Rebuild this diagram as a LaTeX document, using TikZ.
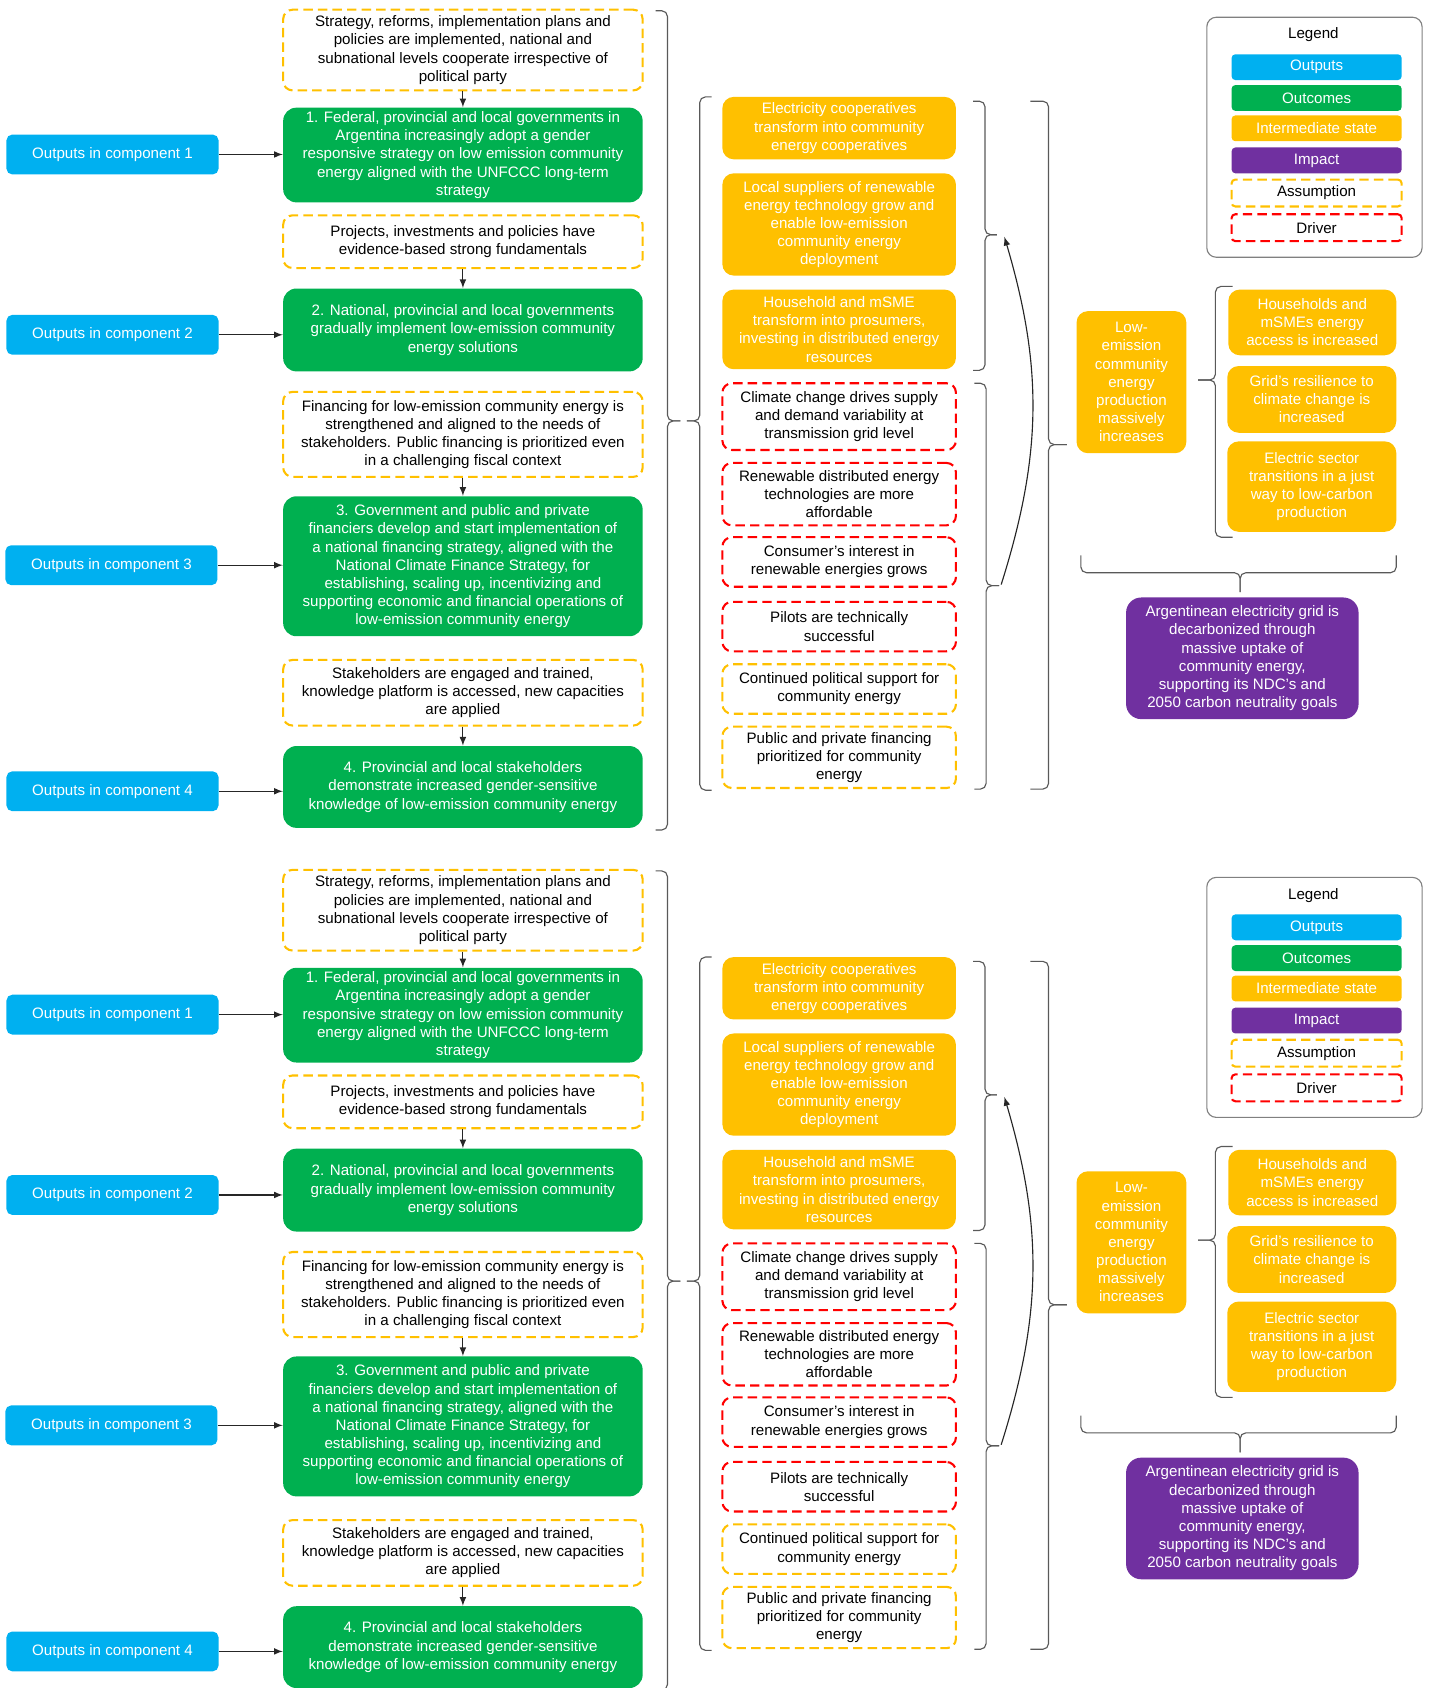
\documentclass[tikz,border=0pt]{standalone}
\usepackage{fontspec}
\setmainfont{Liberation Sans}
\usepackage{tikz}
\definecolor{outblue}{HTML}{00B0F0}
\definecolor{outgreen}{HTML}{00B050}
\definecolor{interyellow}{HTML}{FFC000}
\definecolor{imppurple}{HTML}{7030A0}
\definecolor{drvred}{HTML}{FF0000}
\tikzstyle{tocbox} = [align=center,inner sep=0pt,font=\fontsize{8}{9.6}\selectfont]
\tikzstyle{output} = [tocbox,fill=outblue,text=white,rounded corners=3pt,minimum width=3.94cm,minimum height=0.74cm]
\tikzstyle{outcome} = [tocbox,fill=outgreen,text=white,rounded corners=7pt,minimum width=6.68cm]
\tikzstyle{inter} = [tocbox,fill=interyellow,text=white,rounded corners=6pt]
\tikzstyle{impact} = [tocbox,fill=imppurple,text=white,rounded corners=8pt]
\tikzstyle{assume} = [tocbox,draw=interyellow,line width=1.1pt,dash pattern=on 5pt off 2.7pt,rounded corners=5pt]
\tikzstyle{driver} = [assume,draw=drvred]
\tikzstyle{leftcol} = [minimum width=6.68cm]
\tikzstyle{midcol} = [minimum width=4.34cm]
\tikzstyle{legkey} = [minimum width=3.16cm,minimum height=0.48cm,rounded corners=2pt]
\tikzstyle{bracket} = [draw,gray!70!black,line width=0.6pt,rounded corners=3pt]

\begin{document}
\begin{tikzpicture}[x=0.02cm,y=-0.02cm,post/.style={->,>=latex,line width=0.6pt,gray!30!black}]
    \useasboundingbox (0,0) rectangle (1330,1568);

    % upper copy
    \begin{scope}
    \node[assume,leftcol,minimum height=1.5cm] (asm1) at (430,46.5) {Strategy, reforms, implementation plans and\\policies are implemented, national and\\subnational levels cooperate irrespective of\\political party};
    \node[outcome,minimum height=1.76cm] (goal1) at (430,144) {1. Federal, provincial and local governments in\\Argentina increasingly adopt a gender\\responsive strategy on low emission community\\energy aligned with the UNFCCC long-term\\strategy};
    \node[assume,leftcol,minimum height=0.98cm] (asm2) at (430,224.5) {Projects, investments and policies have\\evidence-based strong fundamentals};
    \node[outcome,minimum height=1.54cm] (goal2) at (430,306.5) {2. National, provincial and local governments\\gradually implement low-emission community\\energy solutions};
    \node[assume,leftcol,minimum height=1.58cm] (asm3) at (430,403.5) {Financing for low-emission community energy is\\strengthened and aligned to the needs of\\stakeholders. Public financing is prioritized even\\in a challenging fiscal context};
    \node[outcome,minimum height=2.6cm] (goal3) at (430,526) {3. Government and public and private\\financiers develop and start implementation of\\a national financing strategy, aligned with the\\National Climate Finance Strategy, for\\establishing, scaling up, incentivizing and\\supporting economic and financial operations of\\low-emission community energy};
    \node[assume,leftcol,minimum height=1.22cm] (asm4) at (430,643.5) {Stakeholders are engaged and trained,\\knowledge platform is accessed, new capacities\\are applied};
    \node[outcome,minimum height=1.52cm] (goal4) at (430,731) {4. Provincial and local stakeholders\\demonstrate increased gender-sensitive\\knowledge of low-emission community energy};

    \node[output] (out1) at (104.5,143.5) {Outputs in component 1};
    \node[output] (out2) at (104.5,311) {Outputs in component 2};
    \node[output] (out3) at (103.5,525) {Outputs in component 3};
    \node[output] (out4) at (104.5,735) {Outputs in component 4};

    \draw[post] (asm1) -- (goal1);
    \draw[post] (asm2) -- (goal2);
    \draw[post] (asm3) -- (goal3);
    \draw[post] (asm4) -- (goal4);
    \draw[post] (out1) -- (out1 -| goal1.west);
    \draw[post] (out2) -- (out2 -| goal2.west);
    \draw[post] (out3) -- (out3 -| goal3.west);
    \draw[post] (out4) -- (out4 -| goal4.west);

    \node[inter,midcol,minimum height=1.16cm] (inter1) at (779.5,119) {Electricity cooperatives\\transform into community\\energy cooperatives};
    \node[inter,midcol,minimum height=1.9cm] (inter2) at (779.5,208.5) {Local suppliers of renewable\\energy technology grow and\\enable low-emission\\community energy\\deployment};
    \node[inter,midcol,minimum height=1.48cm] (inter3) at (779.5,306) {Household and mSME\\transform into prosumers,\\investing in distributed energy\\resources};
    \node[driver,midcol,minimum height=1.24cm] (drv1) at (779.5,387) {Climate change drives supply\\and demand variability at\\transmission grid level};
    \node[driver,midcol,minimum height=1.16cm] (drv2) at (779.5,459) {Renewable distributed energy\\technologies are more\\affordable};
    \node[driver,midcol,minimum height=0.92cm] (drv3) at (779.5,522) {Consumer’s interest in\\renewable energies grows};
    \node[driver,midcol,minimum height=0.92cm] (drv4) at (779.5,582) {Pilots are technically\\successful};
    \node[assume,midcol,minimum height=0.92cm] (asm5) at (779.5,640) {Continued political support for\\community energy};
    \node[assume,midcol,minimum height=1.14cm] (asm6) at (779.5,703.5) {Public and private financing\\prioritized for community\\energy};

    \node[inter,minimum width=2.04cm,minimum height=2.64cm] (low) at (1051,355) {Low-\\emission\\community\\energy\\production\\massively\\increases};
    \node[inter,minimum width=3.12cm,minimum height=1.22cm] (res1) at (1219,299.5) {Households and\\mSMEs energy\\access is increased};
    \node[inter,minimum width=3.14cm,minimum height=1.24cm] (res2) at (1218.5,371) {Grid’s resilience to\\climate change is\\increased};
    \node[inter,minimum width=3.14cm,minimum height=1.68cm] (res3) at (1218.5,452) {Electric sector\\transitions in a just\\way to low-carbon\\production};
    \node[impact,minimum width=4.32cm,minimum height=2.26cm] (goal) at (1154,611.5) {Argentinean electricity grid is\\decarbonized through\\massive uptake of\\community energy,\\supporting its NDC’s and\\2050 carbon neutrality goals};

    % brackets
    \draw[bracket] (609,10) -| (620,391) -- (632,391);
    \draw[bracket] (609,771) -| (620,391) -- (632,391);
    \draw[bracket] (661,90) -| (650,391) -- (638,391);
    \draw[bracket] (661,734) -| (650,391) -- (638,391);
    \draw[bracket] (904,94) -| (915,218) -- (926,218);
    \draw[bracket] (904,344) -| (915,218) -- (926,218);
    \draw[bracket] (905,356) -| (916,544) -- (928,544);
    \draw[bracket] (905,733) -| (916,544) -- (928,544);
    \draw[bracket] (957,94) -| (974,413) -- (991,413);
    \draw[bracket] (957,733) -| (974,413) -- (991,413);
    \draw[bracket] (1145,266) -| (1129,353) -- (1113,353);
    \draw[bracket] (1145,499) -| (1129,353) -- (1113,353);
    \draw[bracket] (1004,516) |- (1152,532) -- (1152,550);
    \draw[bracket] (1297,516) |- (1152,532) -- (1152,550);
    \coordinate (drvtip) at (930,543);
    \coordinate (intertip) at (933,220);
    \draw[post] (drvtip) to[bend right=17] (intertip);

    \node[draw=gray,line width=0.6pt,rounded corners=5pt,minimum width=4cm,minimum height=4.46cm] (legend) at (1221,127.5) {};
    \node[tocbox] (legendtitle) at (1220,32.5) {Legend};
    \node[output,legkey] (keyout) at (1223,62.4) {Outputs};
    \node[outcome,legkey] (keygoal) at (1223,91) {Outcomes};
    \node[inter,legkey] (keyinter) at (1223,119.2) {Intermediate state};
    \node[impact,legkey] (keyimpact) at (1223,149) {Impact};
    \node[assume,legkey,minimum height=0.5cm] (keyasm) at (1223,179.3) {Assumption};
    \node[driver,legkey,minimum height=0.5cm] (keydrv) at (1223,211.5) {Driver};
    \end{scope}

    % lower copy
    \begin{scope}[shift={(0,799)}]
    \node[assume,leftcol,minimum height=1.5cm] (asm1b) at (430,46.5) {Strategy, reforms, implementation plans and\\policies are implemented, national and\\subnational levels cooperate irrespective of\\political party};
    \node[outcome,minimum height=1.76cm] (goal1b) at (430,144) {1. Federal, provincial and local governments in\\Argentina increasingly adopt a gender\\responsive strategy on low emission community\\energy aligned with the UNFCCC long-term\\strategy};
    \node[assume,leftcol,minimum height=0.98cm] (asm2b) at (430,224.5) {Projects, investments and policies have\\evidence-based strong fundamentals};
    \node[outcome,minimum height=1.54cm] (goal2b) at (430,306.5) {2. National, provincial and local governments\\gradually implement low-emission community\\energy solutions};
    \node[assume,leftcol,minimum height=1.58cm] (asm3b) at (430,403.5) {Financing for low-emission community energy is\\strengthened and aligned to the needs of\\stakeholders. Public financing is prioritized even\\in a challenging fiscal context};
    \node[outcome,minimum height=2.6cm] (goal3b) at (430,526) {3. Government and public and private\\financiers develop and start implementation of\\a national financing strategy, aligned with the\\National Climate Finance Strategy, for\\establishing, scaling up, incentivizing and\\supporting economic and financial operations of\\low-emission community energy};
    \node[assume,leftcol,minimum height=1.22cm] (asm4b) at (430,643.5) {Stakeholders are engaged and trained,\\knowledge platform is accessed, new capacities\\are applied};
    \node[outcome,minimum height=1.52cm] (goal4b) at (430,731) {4. Provincial and local stakeholders\\demonstrate increased gender-sensitive\\knowledge of low-emission community energy};

    \node[output] (out1b) at (104.5,143.5) {Outputs in component 1};
    \node[output] (out2b) at (104.5,311) {Outputs in component 2};
    \node[output] (out3b) at (103.5,525) {Outputs in component 3};
    \node[output] (out4b) at (104.5,735) {Outputs in component 4};

    \draw[post] (asm1b) -- (goal1b);
    \draw[post] (asm2b) -- (goal2b);
    \draw[post] (asm3b) -- (goal3b);
    \draw[post] (asm4b) -- (goal4b);
    \draw[post] (out1b) -- (out1b -| goal1b.west);
    \draw[post] (out2b) -- (out2b -| goal2b.west);
    \draw[post] (out3b) -- (out3b -| goal3b.west);
    \draw[post] (out4b) -- (out4b -| goal4b.west);

    \node[inter,midcol,minimum height=1.16cm] (inter1b) at (779.5,119) {Electricity cooperatives\\transform into community\\energy cooperatives};
    \node[inter,midcol,minimum height=1.9cm] (inter2b) at (779.5,208.5) {Local suppliers of renewable\\energy technology grow and\\enable low-emission\\community energy\\deployment};
    \node[inter,midcol,minimum height=1.48cm] (inter3b) at (779.5,306) {Household and mSME\\transform into prosumers,\\investing in distributed energy\\resources};
    \node[driver,midcol,minimum height=1.24cm] (drv1b) at (779.5,387) {Climate change drives supply\\and demand variability at\\transmission grid level};
    \node[driver,midcol,minimum height=1.16cm] (drv2b) at (779.5,459) {Renewable distributed energy\\technologies are more\\affordable};
    \node[driver,midcol,minimum height=0.92cm] (drv3b) at (779.5,522) {Consumer’s interest in\\renewable energies grows};
    \node[driver,midcol,minimum height=0.92cm] (drv4b) at (779.5,582) {Pilots are technically\\successful};
    \node[assume,midcol,minimum height=0.92cm] (asm5b) at (779.5,640) {Continued political support for\\community energy};
    \node[assume,midcol,minimum height=1.14cm] (asm6b) at (779.5,703.5) {Public and private financing\\prioritized for community\\energy};

    \node[inter,minimum width=2.04cm,minimum height=2.64cm] (lowb) at (1051,355) {Low-\\emission\\community\\energy\\production\\massively\\increases};
    \node[inter,minimum width=3.12cm,minimum height=1.22cm] (res1b) at (1219,299.5) {Households and\\mSMEs energy\\access is increased};
    \node[inter,minimum width=3.14cm,minimum height=1.24cm] (res2b) at (1218.5,371) {Grid’s resilience to\\climate change is\\increased};
    \node[inter,minimum width=3.14cm,minimum height=1.68cm] (res3b) at (1218.5,452) {Electric sector\\transitions in a just\\way to low-carbon\\production};
    \node[impact,minimum width=4.32cm,minimum height=2.26cm] (goalb) at (1154,611.5) {Argentinean electricity grid is\\decarbonized through\\massive uptake of\\community energy,\\supporting its NDC’s and\\2050 carbon neutrality goals};

    % brackets
    \draw[bracket] (609,10) -| (620,391) -- (632,391);
    \draw[bracket] (609,771) -| (620,391) -- (632,391);
    \draw[bracket] (661,90) -| (650,391) -- (638,391);
    \draw[bracket] (661,734) -| (650,391) -- (638,391);
    \draw[bracket] (904,94) -| (915,218) -- (926,218);
    \draw[bracket] (904,344) -| (915,218) -- (926,218);
    \draw[bracket] (905,356) -| (916,544) -- (928,544);
    \draw[bracket] (905,733) -| (916,544) -- (928,544);
    \draw[bracket] (957,94) -| (974,413) -- (991,413);
    \draw[bracket] (957,733) -| (974,413) -- (991,413);
    \draw[bracket] (1145,266) -| (1129,353) -- (1113,353);
    \draw[bracket] (1145,499) -| (1129,353) -- (1113,353);
    \draw[bracket] (1004,516) |- (1152,532) -- (1152,550);
    \draw[bracket] (1297,516) |- (1152,532) -- (1152,550);
    \coordinate (drvtipb) at (930,543);
    \coordinate (intertipb) at (933,220);
    \draw[post] (drvtipb) to[bend right=17] (intertipb);

    \node[draw=gray,line width=0.6pt,rounded corners=5pt,minimum width=4cm,minimum height=4.46cm] (legendb) at (1221,127.5) {};
    \node[tocbox] (legendtitleb) at (1220,32.5) {Legend};
    \node[output,legkey] (keyoutb) at (1223,62.4) {Outputs};
    \node[outcome,legkey] (keygoalb) at (1223,91) {Outcomes};
    \node[inter,legkey] (keyinterb) at (1223,119.2) {Intermediate state};
    \node[impact,legkey] (keyimpactb) at (1223,149) {Impact};
    \node[assume,legkey,minimum height=0.5cm] (keyasmb) at (1223,179.3) {Assumption};
    \node[driver,legkey,minimum height=0.5cm] (keydrvb) at (1223,211.5) {Driver};
    \end{scope}

\end{tikzpicture}
\end{document}
